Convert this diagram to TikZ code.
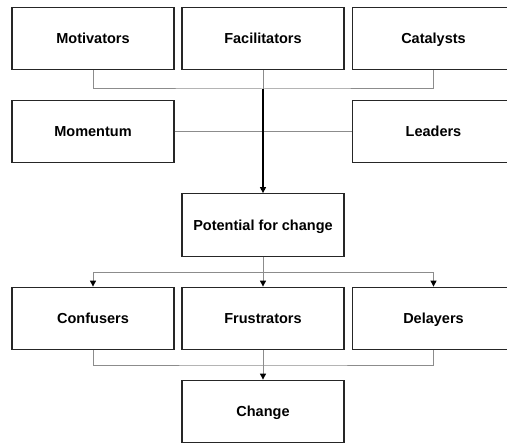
\documentclass[tikz,border=0pt]{standalone}
\usepackage{fontspec}
\setmainfont{Liberation Sans}
\usetikzlibrary{arrows.meta}
\begin{document}
\begin{tikzpicture}[x=1bp,y=-1bp,
  box/.style={draw=black!85,line width=1.3bp,minimum width=162bp,minimum height=62.5bp,inner sep=0pt,text height=10.5bp,text depth=0bp,font=\bfseries\fontsize{14.5bp}{17bp}\selectfont,anchor=center},
  conn/.style={draw=black!45,line width=1bp},
  main/.style={draw=black,line width=1.2bp},
  tip/.style={-{Triangle[width=6bp,length=6bp,color=black]}}]
\useasboundingbox (0,0) rectangle (507,443);
\begin{scope}
\clip (0,0) rectangle (507,443);
\node[box] (mot) at (93,38.5) {Motivators};
\node[box] (fac) at (263,38.5) {Facilitators};
\node[box] (cat) at (433.5,38.5) {Catalysts};
\node[box] (mom) at (93,131.5) {Momentum};
\node[box] (lea) at (433.5,131.5) {Leaders};
\node[box] (pot) at (263,225) {Potential for change};
\node[box] (con) at (93,318.5) {Confusers};
\node[box] (fru) at (263,318.5) {Frustrators};
\node[box] (del) at (433.5,318.5) {Delayers};
\node[box] (cha) at (263,411.5) {Change};
\end{scope}
\coordinate (j1) at (263,89);
\coordinate (j2) at (263,272);
\coordinate (j3) at (263,365);
\draw[conn] (mot.south) |- (j1) -| (cat.south);
\draw[conn] (fac.south) -- (j1);
\draw[conn] (mom.east) -- (lea.west);
\draw[main,tip] (j1) -- (pot.north);
\draw[conn] (pot.south) -- (j2);
\draw[conn,tip] (j2) -| (con.north);
\draw[conn,tip] (j2) -| (del.north);
\draw[conn,tip] (j2) -- (fru.north);
\draw[conn] (con.south) |- (j3) -| (del.south);
\draw[conn] (fru.south) -- (j3);
\draw[conn,tip] (j3) -- (cha.north);
\end{tikzpicture}
\end{document}
